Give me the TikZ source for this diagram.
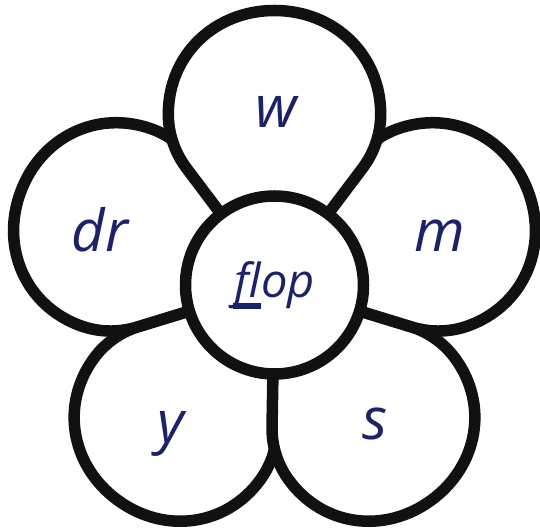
\documentclass[tikz,border=0pt]{standalone}
\usepackage{fontspec}
\setmainfont{Open Sans}
\definecolor{ink}{RGB}{18,17,15}
\definecolor{navy}{RGB}{28,34,104}
\newcommand{\ulfl}[1]{\setbox0\hbox{#1}\rlap{\kern-1.5pt\raisebox{-11pt}{\rule{\dimexpr\wd0+1pt\relax}{5.5pt}}}\box0}
\tikzset{
  petalline/.style={draw=ink, fill=white, line width=11.5pt, line join=round},
  petal/.pic={\path[petalline] (0,0) -- (-88.1,116.9)
      .. controls (-99.8,132.5) and (-106.2,151.4) .. (-106.2,170.9)
      .. controls (-106.2,230) and (-60,274.5) .. (0,274.5)
      .. controls (60,274.5) and (106.2,230) .. (106.2,170.9)
      .. controls (106.2,151.4) and (99.8,132.5) .. (88.1,116.9) -- cycle;},
  word/.style={text=navy, font=\fontsize{58}{60}\selectfont\itshape, inner sep=0pt, anchor=base},
  hubstyle/.style={circle, draw=ink, fill=white, line width=11.5pt, minimum size=178pt, inner sep=0pt},
}
\begin{document}
\begin{tikzpicture}[x=1pt,y=1pt]
\useasboundingbox (0,0) rectangle (540,529);
\fill[white] (0,0) rectangle (540,529);
\coordinate (C) at (274.5,244);
\pic[rotate=144, scale=0.97] at (C) {petal};
\pic[rotate=216, scale=0.97] at (C) {petal};
\pic[rotate=70, scale=0.985] at (C) {petal};
\pic[rotate=-70, scale=0.985] at (C) {petal};
\pic at (C) {petal};
\node[hubstyle] (hub) at (C) {};
\node[word] (w) at (276,401) {w};
\node[word] (m) at (440,277) {m};
\node[word] (dr) at (100,277) {dr};
\node[word] (y) at (170.5,86) {y};
\node[word] (s) at (374.5,89) {s};
\node[word, font=\fontsize{47}{49}\selectfont\itshape] (flop) at (275,231) {\ulfl{fl}op};
\end{tikzpicture}
\end{document}
